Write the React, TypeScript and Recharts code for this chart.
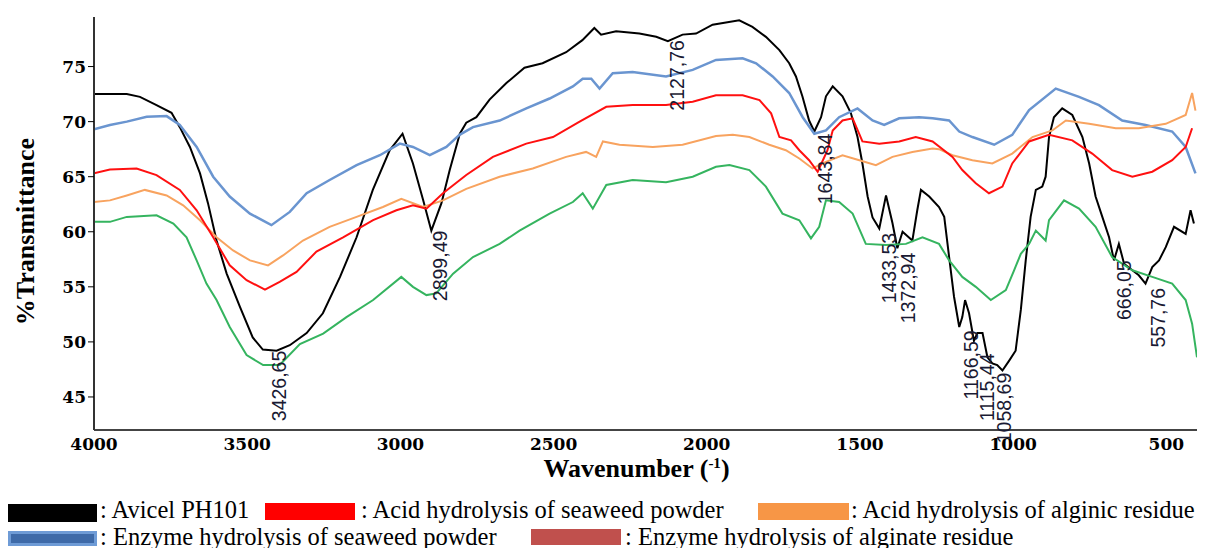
import React from 'react';
import { LineChart, Line, XAxis, YAxis, ReferenceDot } from 'recharts';

if (typeof document !== 'undefined') {
  document.body.style.overflow = 'hidden';
}

// ---------- data ----------
const aviWn = [4000, 3893, 3850, 3796, 3747, 3720, 3687, 3654, 3628, 3600, 3567, 3524, 3482, 3449, 3404, 3361, 3306, 3253, 3197, 3143, 3090, 3035, 2993, 2959, 2926, 2899, 2866, 2839, 2806, 2785, 2752, 2709, 2654, 2595, 2536, 2459, 2406, 2367, 2345, 2296, 2220, 2165, 2127, 2079, 2035, 1981, 1894, 1851, 1807, 1763, 1731, 1709, 1688, 1666, 1649, 1627, 1611, 1589, 1557, 1530, 1508, 1492, 1475, 1459, 1437, 1415, 1394, 1378, 1361, 1329, 1313, 1301, 1274, 1242, 1225, 1209, 1193, 1176, 1166, 1157, 1144, 1128, 1117, 1100, 1084, 1068, 1052, 1035, 1013, 992, 975, 959, 943, 926, 905, 894, 883, 867, 840, 807, 774, 752, 731, 709, 687, 671, 655, 638, 611, 590, 568, 546, 524, 502, 475, 437, 421, 410];
const aviT = [72.5, 72.5, 72.25, 71.5, 70.8, 69.5, 67.7, 65.3, 62.6, 59.2, 56.2, 53.2, 50.4, 49.3, 49.2, 49.7, 50.8, 52.6, 55.9, 59.5, 63.8, 67.4, 68.9, 66.2, 62.9, 60.1, 62.6, 65.6, 68.9, 69.9, 70.4, 72.0, 73.5, 74.9, 75.3, 76.3, 77.4, 78.5, 77.9, 78.2, 78.0, 77.7, 77.3, 77.9, 78.0, 78.8, 79.2, 78.6, 77.7, 76.5, 75.3, 74.1, 72.3, 70.1, 69.1, 70.4, 72.3, 73.2, 72.3, 70.8, 68.6, 66.2, 63.2, 61.3, 60.3, 63.3, 60.8, 58.5, 60.0, 59.2, 61.95, 63.8, 63.2, 62.25, 61.35, 57.7, 54.1, 51.35, 52.25, 53.8, 52.6, 50.1, 50.8, 50.8, 48.6, 48.05, 47.9, 47.4, 48.3, 49.2, 52.9, 57.4, 61.35, 63.8, 64.1, 65.0, 68.6, 70.4, 71.2, 70.6, 68.6, 66.2, 63.2, 61.35, 59.5, 57.4, 58.9, 57.1, 56.5, 56.05, 55.3, 56.8, 57.4, 58.6, 60.45, 59.8, 61.95, 60.75];

const acidSwWn = [4000, 3948, 3861, 3796, 3720, 3665, 3611, 3557, 3502, 3442, 3394, 3339, 3274, 3187, 3089, 3013, 2959, 2915, 2861, 2785, 2698, 2589, 2502, 2415, 2328, 2242, 2133, 2046, 1970, 1883, 1828, 1790, 1763, 1725, 1698, 1666, 1638, 1606, 1589, 1557, 1524, 1492, 1437, 1372, 1318, 1263, 1198, 1166, 1122, 1079, 1035, 1003, 948, 883, 807, 742, 677, 611, 546, 481, 437, 416];
const acidSwT = [65.3, 65.65, 65.75, 65.15, 63.8, 61.95, 59.5, 56.95, 55.6, 54.75, 55.45, 56.35, 58.2, 59.5, 61.05, 61.95, 62.4, 62.1, 63.5, 65.15, 66.8, 68.0, 68.6, 70.0, 71.35, 71.5, 71.5, 71.8, 72.4, 72.4, 71.95, 70.75, 68.6, 68.3, 67.4, 66.5, 65.45, 67.4, 69.2, 70.1, 70.3, 68.2, 68.0, 68.2, 68.6, 68.2, 66.8, 65.6, 64.4, 63.5, 64.1, 66.2, 68.2, 68.8, 68.3, 67.1, 65.6, 65.0, 65.45, 66.5, 67.7, 69.4];

const acidAlWn = [4000, 3948, 3893, 3834, 3763, 3709, 3654, 3600, 3546, 3491, 3432, 3383, 3318, 3231, 3143, 3057, 2997, 2926, 2861, 2785, 2676, 2568, 2459, 2394, 2361, 2339, 2285, 2176, 2079, 1970, 1915, 1861, 1796, 1742, 1698, 1655, 1611, 1557, 1502, 1448, 1394, 1329, 1263, 1242, 1198, 1133, 1068, 1003, 937, 872, 828, 752, 665, 590, 502, 437, 416, 405];
const acidAlT = [62.7, 62.85, 63.3, 63.8, 63.3, 62.4, 61.05, 59.5, 58.3, 57.4, 56.95, 57.85, 59.2, 60.45, 61.35, 62.25, 63.0, 62.25, 62.85, 63.9, 65.0, 65.75, 66.8, 67.25, 66.8, 68.2, 67.9, 67.7, 67.9, 68.7, 68.8, 68.6, 67.9, 67.4, 66.65, 65.75, 66.35, 66.95, 66.5, 66.05, 66.8, 67.25, 67.55, 67.5, 66.95, 66.5, 66.2, 67.1, 68.6, 69.2, 70.1, 69.8, 69.4, 69.4, 69.8, 70.6, 72.6, 71.0];

const enzSwWn = [4000, 3948, 3893, 3828, 3763, 3720, 3665, 3611, 3557, 3491, 3421, 3361, 3306, 3231, 3143, 3067, 3002, 2959, 2904, 2850, 2807, 2763, 2676, 2589, 2513, 2437, 2405, 2377, 2350, 2307, 2242, 2133, 2046, 1970, 1883, 1839, 1785, 1731, 1687, 1649, 1611, 1568, 1508, 1459, 1421, 1372, 1307, 1263, 1209, 1176, 1133, 1062, 1003, 948, 861, 785, 720, 644, 568, 481, 437, 405];
const enzSwT = [69.3, 69.7, 70.0, 70.45, 70.5, 69.7, 67.7, 65.0, 63.2, 61.65, 60.6, 61.8, 63.5, 64.7, 66.05, 66.95, 68.0, 67.7, 66.95, 67.7, 68.8, 69.5, 70.1, 71.2, 72.1, 73.2, 73.9, 73.9, 73.0, 74.4, 74.5, 74.1, 74.7, 75.6, 75.75, 75.3, 74.1, 72.6, 70.4, 68.9, 69.2, 70.4, 71.2, 70.1, 69.7, 70.3, 70.4, 70.3, 70.1, 69.1, 68.6, 67.9, 68.8, 71.05, 73.0, 72.25, 71.5, 70.1, 69.7, 69.1, 67.7, 65.3];

const enzAlWn = [4000, 3948, 3893, 3796, 3741, 3698, 3665, 3633, 3600, 3557, 3502, 3448, 3394, 3328, 3252, 3176, 3089, 2997, 2959, 2915, 2883, 2828, 2763, 2676, 2611, 2513, 2437, 2405, 2372, 2328, 2242, 2133, 2046, 1970, 1926, 1861, 1807, 1753, 1698, 1660, 1633, 1611, 1568, 1524, 1481, 1415, 1350, 1296, 1242, 1209, 1166, 1122, 1073, 1024, 997, 975, 948, 926, 894, 883, 834, 785, 731, 677, 611, 546, 481, 437, 416, 400];
const enzAlT = [60.9, 60.9, 61.35, 61.5, 60.75, 59.5, 57.4, 55.3, 53.8, 51.35, 48.8, 47.9, 47.9, 49.8, 50.75, 52.25, 53.8, 55.9, 55.0, 54.25, 54.4, 56.2, 57.7, 58.9, 60.1, 61.65, 62.7, 63.5, 62.1, 64.25, 64.7, 64.5, 65.0, 65.9, 66.05, 65.6, 64.1, 61.65, 61.05, 59.4, 60.45, 62.85, 62.7, 61.65, 58.9, 58.8, 58.9, 59.5, 58.9, 57.4, 55.9, 55.0, 53.8, 54.7, 56.5, 58.0, 58.9, 60.1, 59.2, 61.05, 62.85, 62.1, 60.45, 57.7, 56.5, 55.9, 55.3, 53.8, 51.65, 48.6];

const peakWn = [3426.65, 2899.49, 2127.76, 1643.84, 1433.53, 1372.94, 1166.59, 1115.44, 1058.69, 666.05, 557.76];
const peakT = [49.2, 60.1, 77.4, 68.9, 59.9, 58.1, 51.05, 48.95, 47.2, 57.4, 54.9];
const peakText = ['3426,65', '2899,49', '2127,76', '1643,84', '1433,53', '1372,94', '1166,59', '1115,44', '1058,69', '666,05', '557,76'];

const xTicks = [4000, 3500, 3000, 2500, 2000, 1500, 1000, 500];
const yTicks = [45, 50, 55, 60, 65, 70, 75];

const legendNames = [
  'Avicel PH101',
  'Acid hydrolysis of seaweed powder',
  'Acid hydrolysis of alginic residue',
  'Enzyme hydrolysis of seaweed powder',
  'Enzyme hydrolysis of alginate residue',
];
const legendColors = ['#000000', '#FF0000', '#F79646', '#4F81BD', '#C0504D'];

// ---------- layout ----------
const legendLayout = [
  { left: 0, top: 496, w: 89, h: 18, textLeft: 92, textTop: 489 },
  { left: 257, top: 495, w: 90, h: 17, textLeft: 353, textTop: 489 },
  { left: 750, top: 495, w: 91, h: 17, textLeft: 843, textTop: 489 },
  { left: 0, top: 523, w: 89, h: 15, textLeft: 92, textTop: 516 },
  { left: 523, top: 521, w: 90, h: 16, textLeft: 617, textTop: 516 },
];

const toPts = (wn: number[], t: number[]) => wn.map((w, i) => ({ wn: w, t: t[i] }));

const series = [
  { name: 'avi', data: toPts(aviWn, aviT), color: '#000000', width: 2 },
  { name: 'enzSw', data: toPts(enzSwWn, enzSwT), color: '#6A95D0', width: 2.5 },
  { name: 'acidAl', data: toPts(acidAlWn, acidAlT), color: '#F8A35F', width: 2 },
  { name: 'acidSw', data: toPts(acidSwWn, acidSwT), color: '#FF1010', width: 2 },
  { name: 'enzAl', data: toPts(enzAlWn, enzAlT), color: '#35B45F', width: 2 },
];

const tickStyle = { fontFamily: 'DejaVu Serif', fontWeight: 700, fontSize: 17, fill: '#000' };

const YTitle = (props: any) => {
  const vb = props.viewBox || { x: 0, y: 9, width: 86, height: 413 };
  const cx = vb.x + 17;
  const cy = vb.y + vb.height / 2 + 8;
  return (
    <text
      x={cx}
      y={cy}
      transform={`rotate(-90 ${cx} ${cy})`}
      textAnchor="middle"
      dominantBaseline="central"
      style={{ fontFamily: 'Liberation Serif', fontWeight: 700, fontSize: 26, fill: '#000' }}
    >
      %Transmittance
    </text>
  );
};

const XTitle = (props: any) => {
  const vb = props.viewBox || { x: 86, y: 422, width: 1103, height: 62 };
  const cx = vb.x + vb.width / 2 - 9;
  const cy = vb.y + 47;
  return (
    <text
      x={cx}
      y={cy}
      textAnchor="middle"
      style={{ fontFamily: 'Liberation Serif', fontWeight: 700, fontSize: 26, fill: '#000' }}
    >
      <tspan>Wavenumber (</tspan>
      <tspan dy={-9} fontSize={15}>-1</tspan>
      <tspan dy={9}>)</tspan>
    </text>
  );
};

const peakShape = (label: string) => (p: any) => {
  const x = p.cx + 9;
  const y = p.cy;
  return (
    <text
      x={x}
      y={y}
      transform={`rotate(-90 ${x} ${y})`}
      textAnchor="end"
      dominantBaseline="central"
      style={{ fontFamily: 'Liberation Sans', fontSize: 19.5, fill: '#1a1a33' }}
    >
      {label}
    </text>
  );
};

export default function App() {
  return (
    <div style={{ position: 'relative', width: 1197, height: 540, overflow: 'hidden', background: '#fff' }}>
      <LineChart width={1197} height={484} margin={{ top: 9, right: 8, bottom: 0, left: 0 }}>
        <XAxis
          dataKey="wn"
          type="number"
          domain={[400, 4000]}
          reversed
          allowDataOverflow
          ticks={xTicks}
          tickLine={false}
          tickSize={6}
          axisLine={{ stroke: '#444', strokeWidth: 2 }}
          tick={tickStyle}
          height={62}
          label={{ content: XTitle }}
        />
        <YAxis
          type="number"
          domain={[42, 79.5]}
          allowDataOverflow
          ticks={yTicks}
          width={86}
          tickSize={6}
          tickLine={{ stroke: '#000', strokeWidth: 1 }}
          axisLine={{ stroke: '#333', strokeWidth: 2 }}
          tick={tickStyle}
          label={{ content: YTitle }}
        />
        {series.map((s) => (
          <Line
            key={s.name}
            data={s.data}
            dataKey="t"
            type="linear"
            stroke={s.color}
            strokeWidth={s.width}
            dot={false}
            activeDot={false}
            isAnimationActive={false}
          />
        ))}
        {peakWn.map((w, i) => (
          <ReferenceDot
            key={peakText[i]}
            x={w}
            y={peakT[i]}
            r={0}
            ifOverflow="hidden"
            shape={peakShape(peakText[i])}
          />
        ))}
      </LineChart>
      {legendNames.map((n, i) => {
        const L = legendLayout[i];
        const isBlue = i === 3;
        return (
          <React.Fragment key={n}>
            <div
              style={{
                position: 'absolute',
                left: L.left,
                top: L.top,
                width: L.w,
                height: L.h,
                background: isBlue ? '#3E6AA8' : legendColors[i],
                boxSizing: 'border-box',
                border: isBlue ? '3px solid #6E9BD6' : 'none',
              }}
            />
            <div
              style={{
                position: 'absolute',
                left: L.textLeft,
                top: L.textTop,
                height: 26,
                lineHeight: '26px',
                fontFamily: 'Liberation Serif',
                fontSize: 24.5,
                whiteSpace: 'nowrap',
                color: '#000',
              }}
            >
              {': ' + n}
            </div>
          </React.Fragment>
        );
      })}
    </div>
  );
}
